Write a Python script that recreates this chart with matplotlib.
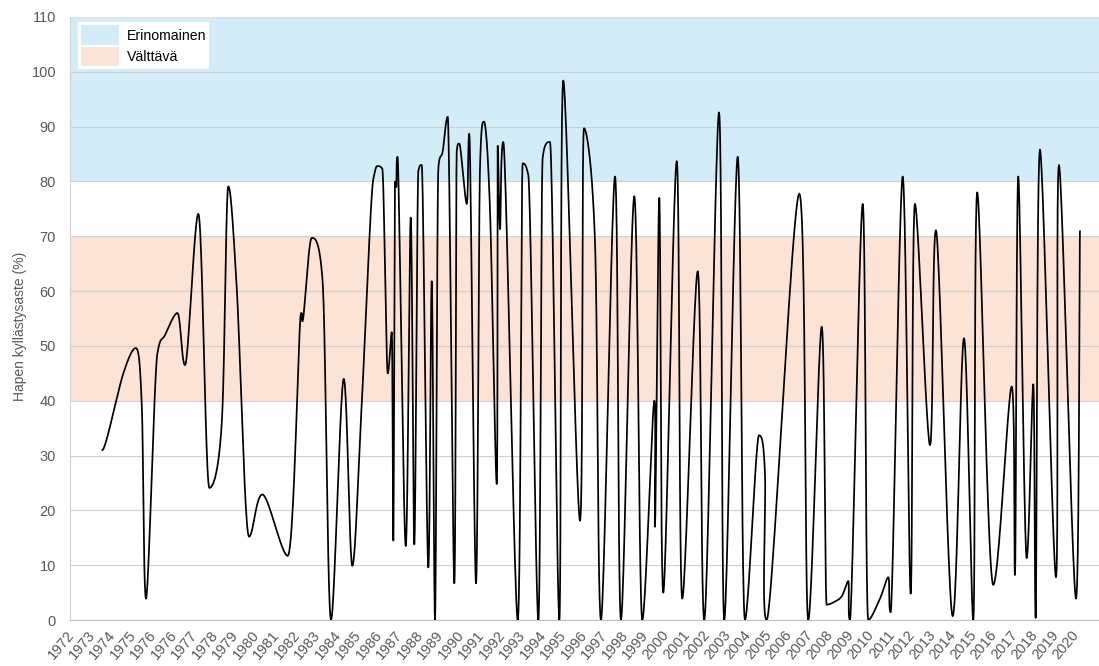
import numpy as np
import matplotlib
matplotlib.use("Agg")
import matplotlib.pyplot as plt
from matplotlib.patches import Patch

plt.rcParams['font.family'] = ['Liberation Sans', 'DejaVu Sans']

# ---- data ----
year_labels = ['1972', '1973', '1974', '1975', '1976', '1976', '1977', '1978', '1979',
               '1980', '1981', '1982', '1983', '1984', '1985', '1986', '1987',
               '1988', '1989', '1990', '1991', '1992', '1993', '1994', '1995', '1996',
               '1997', '1998', '1999', '2000', '2001', '2002', '2003', '2004', '2005',
               '2006', '2007', '2008', '2009', '2010', '2011', '2012', '2013', '2014',
               '2015', '2016', '2017', '2018', '2019', '2020']

# sample position along the category axis (label index units)
t = [1.478, 2.502, 3.107, 3.40, 3.610, 4.161, 4.537, 5.137, 5.512, 6.161, 6.698,
     7.302, 7.624, 8.034, 8.634, 9.283, 10.522, 11.171, 11.244, 11.693, 12.22,
     12.634, 13.254, 13.673, 14.132, 14.698, 14.912, 15.137, 15.400, 15.595,
     15.673, 15.756, 15.82, 15.88, 16.278, 16.522, 16.698, 16.893, 17.059, 17.380,
     17.546, 17.707, 17.868, 18.083, 18.327, 18.649, 18.766, 18.893, 19.254,
     19.380, 19.707, 19.902, 20.098, 20.390, 20.717, 20.766, 20.878, 21.039,
     21.741, 21.985, 22.259, 22.746, 22.961, 23.317, 23.771, 23.966, 24.780,
     24.976, 25.512, 25.805, 26.488, 26.780, 27.429, 27.820, 28.405, 28.439,
     28.649, 28.844, 29.498, 29.771, 30.522, 30.844, 31.561, 31.820, 32.473,
     32.829, 33.512, 33.805, 33.888, 35.478, 35.917, 36.571, 36.815, 37.137,
     37.546, 37.868, 37.951, 38.571, 38.844, 39.415, 39.820, 39.937, 40.522,
     40.912, 41.122, 41.854, 42.146, 42.961, 43.512, 43.966, 44.161, 44.941,
     45.839, 46.0, 46.161, 46.571, 46.893, 47.010, 47.220, 48.0, 48.146, 48.976,
     49.171]
saturation = [31.0, 45.0, 49.6, 39.4, 3.9, 48.6, 52.0, 56.0, 46.5, 74.1, 24.1,
              35.8, 79.1, 60.6, 15.2, 22.9, 11.7, 56.0, 54.5, 69.7, 62.0,
              0.0, 44.0, 9.9, 39.4, 80.5, 82.8, 82.3, 45.0, 52.5,
              14.5, 80.0, 79.0, 84.5, 13.5, 73.4, 13.8, 81.9, 83.0, 9.6,
              61.8, 0.0, 82.3, 85.5, 91.8, 6.7, 85.5, 86.9, 75.9,
              88.7, 6.7, 82.6, 90.9, 74.8, 24.8, 86.5, 71.3, 87.2,
              0.0, 83.3, 81.2, 0.0, 84.4, 87.2, 0.0, 98.4, 18.1,
              89.7, 69.0, 0.0, 80.9, 0.0, 77.3, 0.0, 40.0, 17.0,
              77.0, 5.0, 83.7, 3.9, 63.6, 0.0, 92.6, 0.0, 84.5,
              0.0, 33.7, 26.6, 0.0, 77.8, 0.0, 53.5, 2.8, 3.2,
              4.3, 7.1, 0.0, 75.9, 0.0, 3.9, 7.8, 1.4, 80.9,
              4.8, 75.9, 31.9, 71.1, 0.7, 51.4, 0.0, 78.0, 6.4,
              42.6, 8.2, 80.9, 11.3, 43.0, 0.4, 85.8, 7.8, 83.0, 3.9,
              70.9]

band_names = ['Erinomainen', 'Välttävä']
band_lows = [80, 40]
band_highs = [110, 70]
band_colors = ['#d3edf8', '#fbe3d5']


def smooth(xs, ys, n=24):
    """Smoothed line (Bezier through the points, overshoot-limited in y)."""
    P = np.column_stack([xs, ys]).astype(float)
    m = len(P)
    T = np.zeros_like(P)
    for i in range(m):
        a = P[i - 1] if i > 0 else P[i]
        b = P[i + 1] if i < m - 1 else P[i]
        T[i] = (b - a) / 2.0
        dyp = P[i, 1] - a[1]
        dyn = b[1] - P[i, 1]
        if dyp * dyn <= 0:
            T[i, 1] = 0.0
        else:
            lim = 3.0 * min(abs(dyp), abs(dyn))
            if abs(T[i, 1]) > lim:
                T[i, 1] = np.sign(T[i, 1]) * lim
    out = []
    for i in range(m - 1):
        p1, p2 = P[i], P[i + 1]
        c1 = p1 + T[i] / 3.0
        c2 = p2 - T[i + 1] / 3.0
        s = np.linspace(0, 1, n, endpoint=(i == m - 2))[:, None]
        seg = ((1 - s) ** 3) * p1 + 3 * ((1 - s) ** 2) * s * c1 + 3 * (1 - s) * s ** 2 * c2 + s ** 3 * p2
        out.append(seg)
    out = np.vstack(out)
    return out[:, 0], out[:, 1]


fig = plt.figure(figsize=(10.99, 6.66), dpi=100)
ax = fig.add_axes([70 / 1099, 46 / 666, 1029 / 1099, 603 / 666])

for lo, hi, c in zip(band_lows, band_highs, band_colors):
    ax.axhspan(lo, hi, color=c, lw=0, zorder=0)

ax.set_ylim(0, 110)
ax.set_xlim(-0.1, 50.1)
ax.set_yticks(np.arange(0, 111, 10))
ax.yaxis.grid(True, color='#d0d0d0', lw=0.8, zorder=1)
ax.set_axisbelow(True)

sx, sy = smooth(t, saturation)
ax.plot(sx, sy, color='black', lw=1.25, zorder=3, solid_joinstyle='round')

ax.set_xticks(np.arange(len(year_labels)))
ax.set_xticklabels(year_labels, rotation=50, ha='right', va='center',
                   rotation_mode='anchor', fontsize=10.5, color='#595959')
ax.tick_params(axis='x', length=0, pad=9)
ax.tick_params(axis='y', length=0, pad=10, labelsize=10.5, labelcolor='#595959')

for side in ['top', 'right']:
    ax.spines[side].set_visible(False)
ax.spines['left'].set_color('#d0d0d0')
ax.spines['bottom'].set_color('#bfbfbf')
ax.axhline(110, color='#e0e0e0', lw=1.0, zorder=1)

ax.set_ylabel('Hapen kyllästysaste (%)', fontsize=10, color='#595959')
ax.yaxis.set_label_coords(-0.042, 0.4876)

handles = [Patch(facecolor=c, edgecolor='none') for c in band_colors]
leg = ax.legend(handles, band_names, loc='upper left', bbox_to_anchor=(0.0075, 0.991),
                frameon=True, fancybox=False, framealpha=1.0, edgecolor='white',
                facecolor='white', fontsize=10.2, handlelength=2.7, handleheight=1.75,
                labelspacing=0.12, borderpad=0.2, handletextpad=0.55, borderaxespad=0)
leg.get_frame().set_linewidth(0)

fig.savefig('out.png', dpi=100)
